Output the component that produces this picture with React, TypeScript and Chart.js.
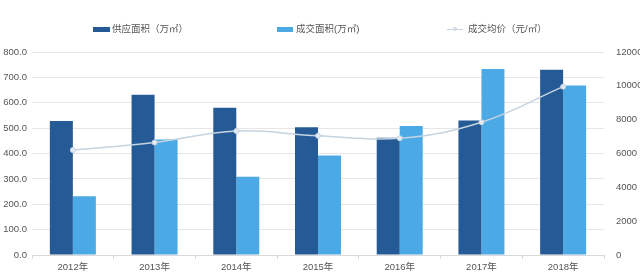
import React, { useEffect, useRef } from 'react';
import { Chart, registerables } from 'chart.js';

Chart.register(...registerables);

const categories = ['2012年', '2013年', '2014年', '2015年', '2016年', '2017年', '2018年'];
const supplyArea = [528, 632, 580, 503, 462, 530, 730];
const dealArea = [232, 455, 308, 392, 508, 733, 668];
const avgPrice = [6200, 6650, 7330, 7050, 6900, 7850, 9950];

const legendLabels = ['供应面积（万㎡）', '成交面积(万㎡)', '成交均价（元/㎡）'];

const DARK = '#245b97';
const LIGHT = '#4ba9e5';
const LINE = '#c6d3e0';
const FONT = "'Liberation Sans', 'Noto Sans CJK SC', sans-serif";

export default function App() {
  const ref = useRef<HTMLCanvasElement | null>(null);

  useEffect(() => {
    if (!ref.current) return;
    const chart = new Chart(ref.current, {
      type: 'bar',
      data: {
        labels: categories,
        datasets: [
          {
            type: 'line',
            label: legendLabels[2],
            data: avgPrice,
            yAxisID: 'y1',
            borderColor: LINE,
            borderWidth: 1.5,
            pointRadius: 2.5,
            pointBackgroundColor: '#e3ebf3',
            pointBorderColor: LINE,
            pointBorderWidth: 1,
            tension: 0.4,
            order: 0,
          },
          {
            type: 'bar',
            label: legendLabels[0],
            data: supplyArea,
            yAxisID: 'y',
            backgroundColor: DARK,
            categoryPercentage: 0.563,
            barPercentage: 1,
            order: 1,
          },
          {
            type: 'bar',
            label: legendLabels[1],
            data: dealArea,
            yAxisID: 'y',
            backgroundColor: LIGHT,
            categoryPercentage: 0.563,
            barPercentage: 1,
            order: 1,
          },
        ],
      },
      options: {
        animation: false,
        responsive: false,
        devicePixelRatio: 1,
        layout: { padding: { top: 52, left: 0, right: 0, bottom: 0 } },
        plugins: { legend: { display: false }, tooltip: { enabled: false } },
        scales: {
          x: {
            offset: true,
            grid: { display: true, drawOnChartArea: false, drawTicks: true, tickLength: 4, color: '#d9d9d9', offset: true },
            border: { display: true, color: '#d9d9d9' },
            ticks: { padding: 3, color: '#555', font: { family: FONT, size: 9.5 } },
            afterFit: (s: any) => { s.height = 23; },
          },
          y: {
            position: 'left',
            min: 0,
            max: 800,
            ticks: {
              stepSize: 100,
              padding: 5,
              color: '#555',
              font: { family: FONT, size: 9.5 },
              callback: (v: any) => Number(v).toFixed(1),
            },
            grid: { color: '#e6e6e6', drawTicks: false },
            border: { display: false },
            afterFit: (s: any) => { s.width = 32; },
          },
          y1: {
            position: 'right',
            min: 0,
            max: 12000,
            ticks: {
              stepSize: 2000,
              padding: 4,
              color: '#555',
              font: { family: FONT, size: 9.5 },
              callback: (v: any) => String(v),
            },
            grid: { display: false },
            border: { display: false },
            afterFit: (s: any) => { s.width = 36; },
          },
        },
      },
    } as any);
    return () => chart.destroy();
  }, []);

  const textStyle: React.CSSProperties = {
    fontFamily: FONT,
    fontSize: 9.5,
    color: '#555',
    whiteSpace: 'nowrap',
    lineHeight: '12px',
  };
  const itemStyle = (left: number): React.CSSProperties => ({
    position: 'absolute',
    left,
    top: 23,
    height: 12,
    display: 'flex',
    alignItems: 'center',
  });

  return (
    <div style={{ position: 'fixed', left: 0, top: 0, width: 640, height: 278, background: '#fff' }}>
      <canvas ref={ref} width={640} height={278} style={{ position: 'absolute', left: 0, top: 0, width: 640, height: 278 }} />
      <div style={itemStyle(93)}>
        <span style={{ display: 'inline-block', width: 17, height: 5, background: DARK }} />
        <span style={{ ...textStyle, marginLeft: 2 }}>{legendLabels[0]}</span>
      </div>
      <div style={itemStyle(277)}>
        <span style={{ display: 'inline-block', width: 16, height: 5, background: LIGHT }} />
        <span style={{ ...textStyle, marginLeft: 3 }}>{legendLabels[1]}</span>
      </div>
      <div style={itemStyle(447)}>
        <span style={{ position: 'relative', display: 'inline-block', width: 16, height: 5 }}>
          <span style={{ position: 'absolute', left: 0, top: 2, width: 16, height: 1.5, background: LINE }} />
          <span style={{ position: 'absolute', left: 6, top: 0.5, width: 4, height: 4, borderRadius: 3, background: '#e3ebf3', border: '0.5px solid ' + LINE, boxSizing: 'border-box' }} />
        </span>
        <span style={{ ...textStyle, marginLeft: 5 }}>{legendLabels[2]}</span>
      </div>
    </div>
  );
}
